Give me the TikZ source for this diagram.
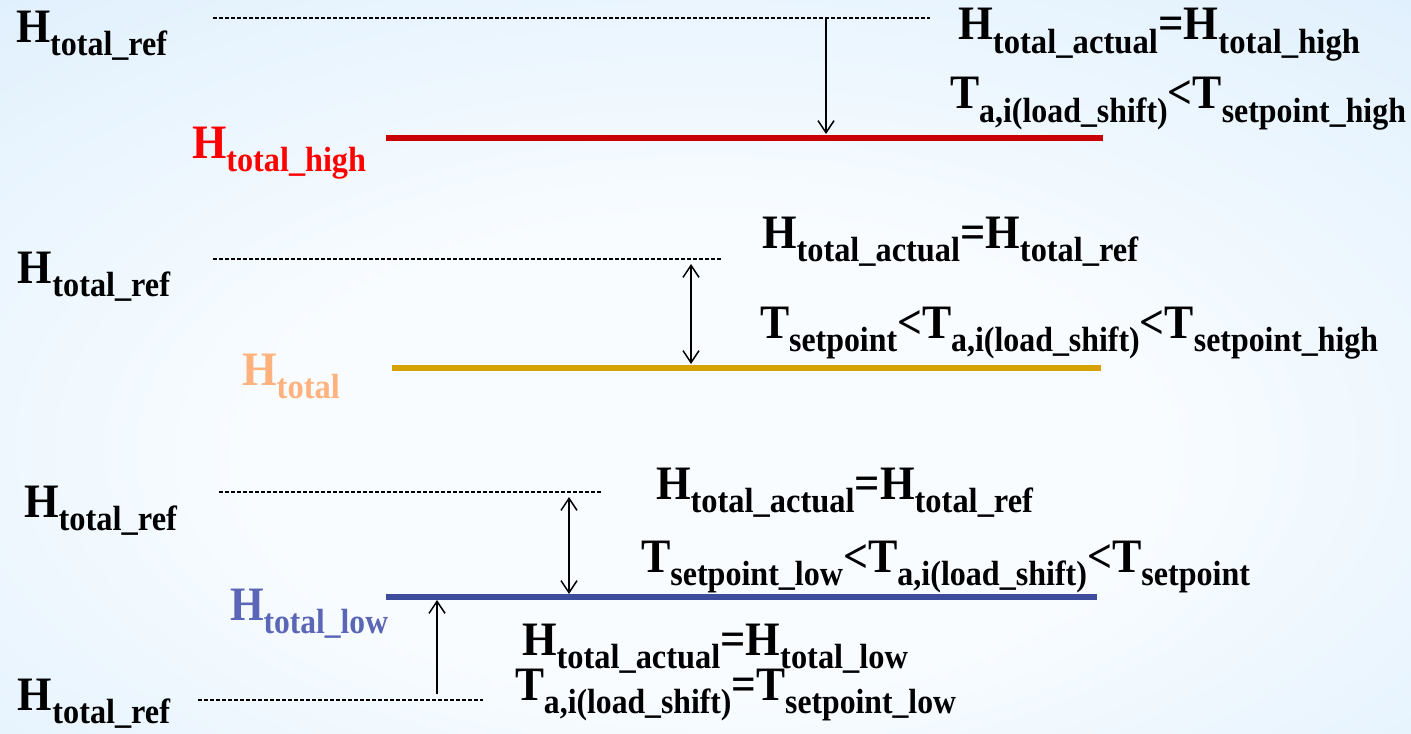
\documentclass[tikz,border=0pt]{standalone}
\usepackage{fontspec}
\usepackage{graphicx}
\setmainfont{Liberation Serif}
\usetikzlibrary{arrows.meta}
\definecolor{bgc}{RGB}{248,252,255}
\definecolor{bge}{RGB}{214,235,252}
\definecolor{bgk}{RGB}{186,218,246}
\definecolor{redline}{RGB}{200,0,0}
\definecolor{goldline}{RGB}{214,162,0}
\definecolor{blueline}{RGB}{62,76,156}
\definecolor{redlab}{RGB}{255,0,0}
\definecolor{goldlab}{RGB}{255,178,125}
\definecolor{bluelab}{RGB}{92,102,182}
\pgfdeclareradialshading{bgshade}{\pgfpoint{0bp}{-8bp}}{color(0bp)=(bgc); color(16bp)=(bgc); color(48bp)=(bge); color(72bp)=(bgk)}
\newcommand\MS{\fontsize{24}{25}\selectfont\bfseries}
\newcommand\subtx[1]{\raisebox{-6.5pt}{\fontsize{17.5}{18}\selectfont #1}}
\newcommand\fitw[2]{\resizebox{#1}{\height}{#2}}
\tikzset{
  txt/.style={inner sep=0pt, outer sep=0pt, font=\MS, anchor=base west},
  refline/.style={draw=black, line width=0.6pt, dash pattern=on 2pt off 1pt},
  levelline/.style={line width=3pt},
  arr/.style={draw=black, line width=0.75pt, -{Straight Barb[length=6pt,width=8pt,line width=0.75pt]}},
  darr/.style={draw=black, line width=0.75pt, {Straight Barb[length=6pt,width=8pt,line width=0.75pt]}-{Straight Barb[length=6pt,width=8pt,line width=0.75pt]}}
}
\begin{document}
\begin{tikzpicture}[x=0.5pt,y=-0.5pt]
\useasboundingbox (0,0) rectangle (1411,733);
\shade[shading=bgshade] (0,0) rectangle (1411,733);
% ---------- Row 1 ----------
\coordinate (d1a) at (213,18);
\coordinate (d1b) at (930,18);
\draw[refline] (d1a) -- (d1b);
\coordinate (r1a) at (386,138);
\coordinate (r1b) at (1103,138);
\draw[levelline, redline] (r1a) -- (r1b);
\coordinate (a1s) at (826,19);
\coordinate (a1e) at (826,134);
\draw[arr] (a1s) -- (a1e);
\node[txt] (lab1) at (16,43) {\fitw{75.5pt}{H\subtx{total\_ref}}};
\node[txt, text=redlab] (lab1h) at (192,158) {\fitw{87pt}{H\subtx{total\_high}}};
\node[txt] (eq1a) at (958,40) {\fitw{201pt}{H\subtx{total\_actual}=H\subtx{total\_high}}};
\node[txt] (eq1b) at (950,109) {\fitw{228pt}{T\subtx{a,i(load\_shift)}<T\subtx{setpoint\_high}}};
% ---------- Row 2 ----------
\coordinate (d2a) at (213,259);
\coordinate (d2b) at (722,259);
\draw[refline] (d2a) -- (d2b);
\coordinate (g2a) at (392,368);
\coordinate (g2b) at (1101,368);
\draw[levelline, goldline, line width=2.6pt] (g2a) -- (g2b);
\coordinate (a2s) at (691,264);
\coordinate (a2e) at (691,364);
\draw[darr] (a2s) -- (a2e);
\node[txt] (lab2) at (18,283) {\fitw{76pt}{H\subtx{total\_ref}}};
\node[txt, text=goldlab] (lab2t) at (242,385) {\fitw{49pt}{H\subtx{total}}};
\node[txt] (eq2a) at (762,248) {\fitw{188pt}{H\subtx{total\_actual}=H\subtx{total\_ref}}};
\node[txt] (eq2b) at (760,338) {\fitw{309pt}{T\subtx{setpoint}<T\subtx{a,i(load\_shift)}<T\subtx{setpoint\_high}}};
% ---------- Row 3 ----------
\coordinate (d3a) at (219,492);
\coordinate (d3b) at (602,492);
\draw[refline] (d3a) -- (d3b);
\coordinate (b3a) at (386,597);
\coordinate (b3b) at (1097,597);
\draw[levelline, blueline] (b3a) -- (b3b);
\coordinate (a3s) at (569,497);
\coordinate (a3e) at (569,594);
\draw[darr] (a3s) -- (a3e);
\coordinate (d4a) at (198,700);
\coordinate (d4b) at (483,700);
\draw[refline] (d4a) -- (d4b);
\coordinate (a4s) at (437,694);
\coordinate (a4e) at (437,600);
\draw[arr] (a4s) -- (a4e);
\node[txt] (lab3) at (24,517) {\fitw{76.5pt}{H\subtx{total\_ref}}};
\node[txt, text=bluelab] (lab3l) at (230,620) {\fitw{79pt}{H\subtx{total\_low}}};
\node[txt] (eq3a) at (656,499) {\fitw{188.5pt}{H\subtx{total\_actual}=H\subtx{total\_ref}}};
\node[txt] (eq3b) at (641,572) {\fitw{304.5pt}{T\subtx{setpoint\_low}<T\subtx{a,i(load\_shift)}<T\subtx{setpoint}}};
\node[txt] (eq3c) at (522,655) {\fitw{193pt}{H\subtx{total\_actual}=H\subtx{total\_low}}};
\node[txt] (eq3d) at (515,700) {\fitw{220.5pt}{T\subtx{a,i(load\_shift)}=T\subtx{setpoint\_low}}};
\node[txt] (lab4) at (18,710) {\fitw{76pt}{H\subtx{total\_ref}}};
\end{tikzpicture}
\end{document}
